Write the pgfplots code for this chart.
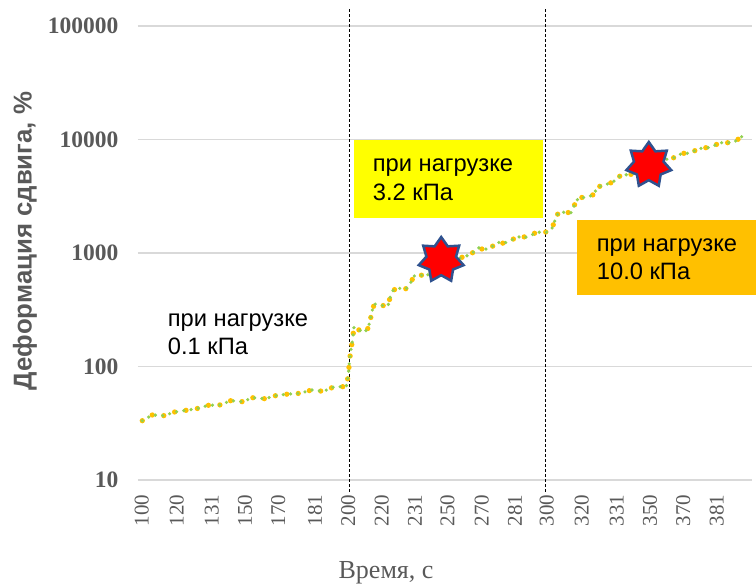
\documentclass[border=0pt]{standalone}
\usepackage{pgfplots}
\pgfplotsset{compat=1.18}
\usepackage{fontspec}
\setmainfont{Liberation Serif}
\newfontfamily\arial{Liberation Sans}
\definecolor{tickgray}{HTML}{595959}
\definecolor{gridgray}{HTML}{D9D9D9}
\definecolor{dotorange}{HTML}{FFC000}
\definecolor{dotgreen}{HTML}{92D050}
\definecolor{starblue}{HTML}{2F528F}
\definecolor{boxyellow}{HTML}{FFFF00}
\definecolor{boxorange}{HTML}{FFC000}

\pgfdeclareplotmark{star7}{%
\pgfpathmoveto{\pgfpointpolar{90}{\pgfplotmarksize}}%
\pgfpathlineto{\pgfpointpolar{115.714}{0.66\pgfplotmarksize}}%
\pgfpathlineto{\pgfpointpolar{141.429}{\pgfplotmarksize}}%
\pgfpathlineto{\pgfpointpolar{167.143}{0.66\pgfplotmarksize}}%
\pgfpathlineto{\pgfpointpolar{192.857}{\pgfplotmarksize}}%
\pgfpathlineto{\pgfpointpolar{218.571}{0.66\pgfplotmarksize}}%
\pgfpathlineto{\pgfpointpolar{244.286}{\pgfplotmarksize}}%
\pgfpathlineto{\pgfpointpolar{270}{0.66\pgfplotmarksize}}%
\pgfpathlineto{\pgfpointpolar{295.714}{\pgfplotmarksize}}%
\pgfpathlineto{\pgfpointpolar{321.429}{0.66\pgfplotmarksize}}%
\pgfpathlineto{\pgfpointpolar{347.143}{\pgfplotmarksize}}%
\pgfpathlineto{\pgfpointpolar{12.857}{0.66\pgfplotmarksize}}%
\pgfpathlineto{\pgfpointpolar{38.571}{\pgfplotmarksize}}%
\pgfpathlineto{\pgfpointpolar{64.286}{0.66\pgfplotmarksize}}%
\pgfpathclose
\pgfusepathqfillstroke}

\pgfplotstableread{
x y
142.3 33.3
152.3 37.4
164 36.9
174.3 39.7
186 41.1
196.7 42.5
208.3 45.5
219.7 45.8
230.7 50.0
242 49.0
253 53.1
265 52.0
276.7 55.7
288.3 57.2
299.7 58.0
311.7 62.1
323.3 60.4
334.3 66.4
346.3 66.4
348.3 84.2
349.3 106.7
350.7 137.8
351.5 149.4
352.7 177.2
354 221.5
356 217.1
364 198.5
368 217.1
370.3 256.9
372 306.3
374.3 355.5
380 346.0
388 341.2
390 403.8
393.3 472.1
398.7 488.5
406.3 484.5
410.7 547.4
414 627.2
421 640.0
425.3 618.3
437 738
450 833
462 916
466 935
472.3 1000
478.3 1114
482.7 1078
486.7 1084
493 1153
499.7 1250
503.3 1217
507.7 1250
514 1336
521.7 1412
525.3 1375
529.3 1392
536 1522
547.3 1531
551.7 1618
554 1849
558.3 2265
563.3 2285
571 2265
576 2832
579.3 3097
586 3070
593.3 3263
595 3467
598.3 3837
603.3 3946
613.3 4223
617.3 4647
622.7 4867
631.7 4935
648 5847
666.7 6700
675.7 6970
681.7 7556
688.3 7556
698.3 8200
703.3 8468
710 8468
720 9373
726.7 9373
733.3 9373
741.7 10590
744 10370
}\strain

\begin{document}
\begin{tikzpicture}
\begin{axis}[
  at={(138pt,107pt)}, anchor=south west,
  scale only axis, width=614pt, height=454pt,
  xmin=138, xmax=752,
  ymode=log, ymin=10, ymax=100000,
  clip=false,
  axis x line=bottom, axis y line=left,
  x axis line style={draw=gridgray, line width=1.3pt, -},
  y axis line style={draw=none},
  ymajorgrids, major grid style={draw=gridgray, line width=1.3pt},
  major tick length=0pt, minor tick num=0,
  tick style={draw=none},
  ytick={10,100,1000,10000,100000},
  yticklabels={10,100,1000,10000,100000},
  yticklabel style={font=\bfseries\fontsize{23.5}{25}\selectfont, text=tickgray},
  yticklabel shift=16pt,
  xtick={141.7,176.7,211.7,245,278.3,315,348.3,381.7,415,447.5,481.7,515,546.7,581.7,616.7,650,683.3,716.7},
  xticklabels={100,120,131,150,170,181,200,220,231,250,270,281,300,320,331,350,370,381},
  xticklabel style={font=\fontsize{21}{22}\selectfont, text=tickgray, rotate=90, anchor=east},
  xticklabel shift=11pt,
  ylabel={Деформация сдвига, \%},
  ylabel style={at={(axis description cs:-0.184,0.5264)}, anchor=center, font=\arial\bfseries\fontsize{25.8}{30}\selectfont, text=tickgray},
  xlabel={Время, с},
  xlabel style={at={(axis description cs:0.404,-0.205)}, anchor=center, font=\fontsize{26}{30}\selectfont, text=tickgray},
]
\addplot[black, line width=1pt, dash pattern=on 3pt off 2pt] coordinates {(349,7.84) (349,144100)};
\addplot[black, line width=1pt, dash pattern=on 3pt off 2pt] coordinates {(545,7.84) (545,144100)};
\addplot[dotorange, line width=5.3pt, line cap=round, dash pattern=on 0pt off 11.5pt] table[x=x,y=y] {\strain};
\addplot[dotgreen, line width=3.6pt, line cap=round, dash pattern=on 0pt off 7.3pt] table[x=x,y=y] {\strain};
\addplot[only marks, mark=star7, mark size=23pt, mark options={fill=red, draw=starblue, line width=2.5pt}] coordinates {(441.2,867) (648.8,5960)};
\end{axis}
\fill[boxyellow] (354pt,369.3pt) rectangle (542.7pt,447pt);
\fill[boxorange] (577.3pt,292pt) rectangle (756pt,367pt);
\begin{scope}[every node/.style={anchor=base west, inner sep=0pt, font=\arial\fontsize{23.7}{28}\selectfont}]
\node at (372.7pt,415.3pt) {при нагрузке};
\node at (372.7pt,386.7pt) {3.2 кПа};
\node at (596.7pt,335.3pt) {при нагрузке};
\node at (596.7pt,307.7pt) {10.0 кПа};
\node at (167.7pt,260.3pt) {при нагрузке};
\node at (167.7pt,232pt) {0.1 кПа};
\end{scope}
\pgfresetboundingbox
\path[use as bounding box] (0,0) rectangle (756pt,587pt);
\end{tikzpicture}
\end{document}
